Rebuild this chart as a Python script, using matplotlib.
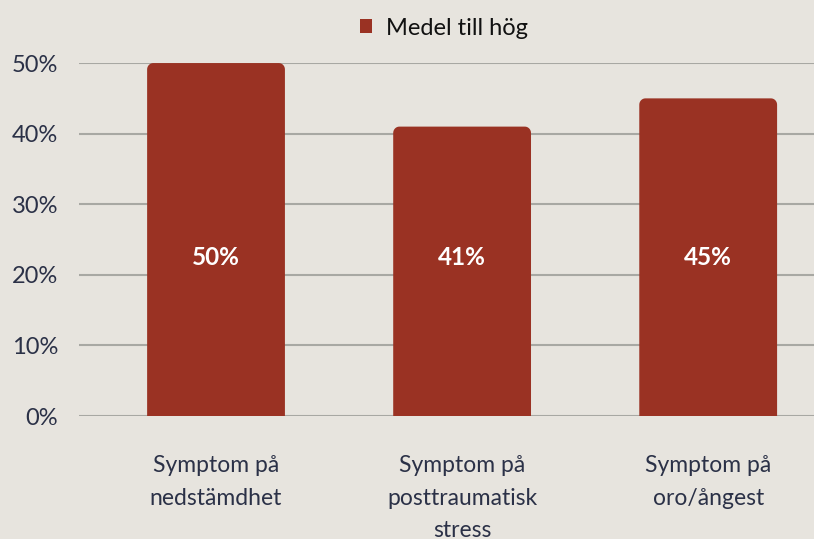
import matplotlib
matplotlib.use("Agg")
import numpy as np
import matplotlib.pyplot as plt
from matplotlib.patches import Rectangle, Polygon
from matplotlib.ticker import FuncFormatter

categories = ["Symptom på\nnedstämdhet", "Symptom på\nposttraumatisk\nstress", "Symptom på\noro/ångest"]
values = [0.50, 0.41, 0.45]
bar_labels = ["50%", "41%", "45%"]
series_name = "Medel till hög"
yticks = [0, 0.1, 0.2, 0.3, 0.4, 0.5]

bg = "#E7E4DE"
bar_color = "#9A3223"
text_color = "#2B3147"
plt.rcParams['font.family'] = ['Lato', 'DejaVu Sans']

fig = plt.figure(figsize=(8.14, 5.39), dpi=100, facecolor=bg)
ax = fig.add_axes([0.097, 0.228, 0.903, 0.655], facecolor=bg)

x = list(range(len(categories)))
bars = ax.bar(x, values, width=0.56, color=bar_color, zorder=3, label=series_name)

# rounded top corners: replace each bar by a polygon built from its geometry
rx, ry = 0.025, 0.009
t = np.linspace(0, np.pi / 2, 12)
for b in bars:
    b.set_visible(False)
    bx, by, bw, bh = b.get_x(), b.get_y(), b.get_width(), b.get_height()
    right_arc = np.column_stack([bx + bw - rx + rx * np.cos(t), by + bh - ry + ry * np.sin(t)])
    left_arc = np.column_stack([bx + rx - rx * np.cos(t[::-1]), by + bh - ry + ry * np.sin(t[::-1])])
    pts = np.vstack([[[bx, by], [bx + bw, by]], right_arc, left_arc])
    ax.add_patch(Polygon(pts, closed=True, facecolor=bar_color, edgecolor="none", zorder=3))

for xi, lab in zip(x, bar_labels):
    ax.text(xi, 0.225, lab, ha="center", va="center", color="white",
            fontsize=17.5, fontweight="bold", zorder=4)

ax.set_xlim(-0.557, 2.43)
ax.set_ylim(0, 0.5)
ax.set_yticks(yticks)
ax.yaxis.set_major_formatter(FuncFormatter(lambda v, p: f"{v*100:.0f}%"))
ax.tick_params(axis="y", length=0, labelsize=17, labelcolor=text_color, pad=15)
ax.set_xticks(x)
ax.set_xticklabels(categories, fontsize=16.5, color=text_color, linespacing=1.68)
ax.tick_params(axis="x", length=0, pad=28)
for s in ax.spines.values():
    s.set_visible(False)
ax.grid(axis="y", color="#A8A8A3", linewidth=1.5, zorder=1)
ax.set_axisbelow(True)

handle = Rectangle((0, 0), 1, 1, facecolor=bar_color)
fig.legend([handle], [series_name], loc="center", bbox_to_anchor=(0.546, 0.948),
           frameon=False, fontsize=17, handlelength=0.5, handleheight=0.5,
           handletextpad=0.6, labelcolor="#111111")

fig.savefig("out.png", dpi=100, facecolor=bg)
